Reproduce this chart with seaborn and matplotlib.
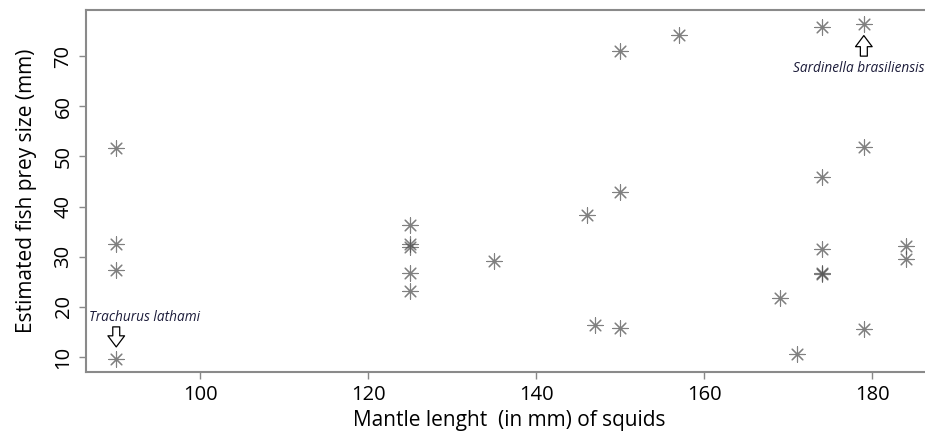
import matplotlib
matplotlib.use("Agg")
import matplotlib.pyplot as plt
import seaborn as sns
import pandas as pd

# Mantle length of squids (mm) and estimated size of fish prey (mm)
mantle_length = [90, 90, 90, 90,
                 125, 125, 125, 125, 125,
                 135, 146, 147,
                 150, 150, 150,
                 157, 169, 171,
                 174, 174, 174, 174, 174,
                 179, 179, 179,
                 184, 184]
prey_size = [51.7, 32.6, 27.4, 9.5,
             36.3, 32.6, 32.0, 26.7, 23.2,
             29.1, 38.3, 16.4,
             71.0, 42.9, 15.8,
             74.2, 21.7, 10.5,
             75.9, 45.9, 31.5, 26.8, 26.6,
             76.4, 51.9, 15.5,
             32.1, 29.6]

xlabel = "Mantle lenght  (in mm) of squids"
ylabel = "Estimated fish prey size (mm)"
xticks = [100, 120, 140, 160, 180]
yticks = [10, 20, 30, 40, 50, 60, 70]

df = pd.DataFrame({"mantle": mantle_length, "prey": prey_size})

sns.set_style("white")
plt.rcParams["font.family"] = ["Open Sans", "DejaVu Sans"]

fig = plt.figure(figsize=(9.25, 4.37), dpi=100)
ax = fig.add_axes([86 / 925, 65 / 437, 846 / 925, 362 / 437])

sns.scatterplot(data=df, x="mantle", y="prey", ax=ax,
                marker=(8, 2, 0), s=120, color="#4a4a4a", alpha=0.7,
                linewidth=0.8, legend=False)

ax.set_xlim(86.4, 86.4 + 846 / 8.4)
ax.set_ylim(7.0, 79.2)
ax.set_xticks(xticks)
ax.set_yticks(yticks)
ax.set_xticklabels([str(t) for t in xticks], fontsize=14.5)
ax.set_yticklabels([str(t) for t in yticks], fontsize=14.5, rotation=90,
                   va="center")
ax.tick_params(axis="both", direction="out", length=5, width=1,
               color="#888888", labelcolor="black", bottom=True, left=True,
               pad=4)
for side in ["left", "bottom", "top", "right"]:
    ax.spines[side].set_color("#8a8a8a")
    ax.spines[side].set_linewidth(1.5)

ax.set_xlabel(xlabel, fontsize=15, labelpad=4, color="black")
ax.set_ylabel(ylabel, fontsize=15, labelpad=12, color="black")

# Species annotations with hollow block arrows
note_color = "#1c1c3a"
arrow_style = "simple,head_width=1.2,head_length=0.8,tail_width=0.5"
ax.text(86.7, 17.9, "Trachurus lathami", style="italic", fontsize=9.8,
        color=note_color, ha="left", va="center")
ax.annotate("", xy=(90, 12.0), xytext=(90, 16.0),
            arrowprops=dict(arrowstyle=arrow_style, fc="white", ec="black",
                            lw=0.9, shrinkA=0, shrinkB=0))
ax.text(170.6, 67.6, "Sardinella brasiliensis", style="italic", fontsize=9.8,
        color=note_color, ha="left", va="center", clip_on=False)
ax.annotate("", xy=(179, 74.1), xytext=(179, 70.0),
            arrowprops=dict(arrowstyle=arrow_style, fc="white", ec="black",
                            lw=0.9, shrinkA=0, shrinkB=0))

fig.savefig("out.png", dpi=100)
